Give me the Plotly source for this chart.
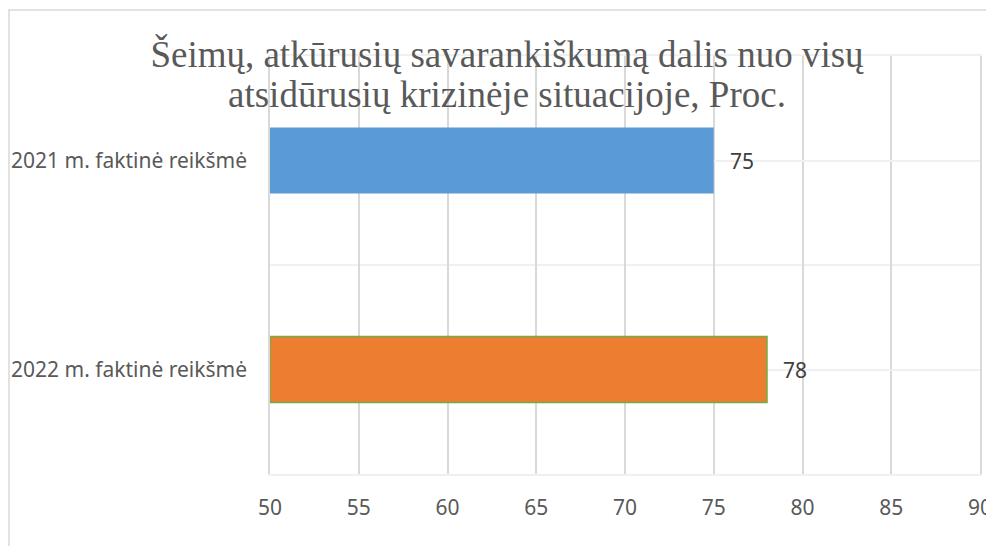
import plotly.graph_objects as go

categories = ["2021 m. faktinė reikšmė", "2022 m. faktinė reikšmė"]
values = [75, 78]
bar_colors = ["#5B9BD5", "#ED7D31"]
bar_line_colors = ["#5B9BD5", "#70AD47"]
bar_line_widths = [0, 1.5]
x_ticks = [50, 55, 60, 65, 70, 75, 80, 85, 90]
title_line1 = "Šeimų, atkūrusių savarankiškumą dalis nuo visų"
title_line2 = "atsidūrusių krizinėje situacijoje, Proc."

positions = list(range(len(categories)))
axis_min = x_ticks[0]

# the page body adds an 8px offset, so the figure is 8px smaller than the window
W, H = 986, 538
ml, mr, mt, mb = 262, 14, 48, 72
pw, ph = W - ml - mr, H - mt - mb

title_font = dict(family="Liberation Serif, Times New Roman, serif", size=37, color="#595959")
label_font = dict(family="Noto Sans, sans-serif", size=21, color="#595959")

fig = go.Figure()
fig.add_trace(go.Bar(
    x=[v - axis_min for v in values],
    y=positions,
    base=axis_min,
    orientation="h",
    width=0.315,
    marker=dict(color=bar_colors, line=dict(color=bar_line_colors, width=bar_line_widths)),
    showlegend=False,
    hoverinfo="none",
))

for p, v in zip(positions, values):
    fig.add_annotation(
        x=v, y=p, text=str(v), showarrow=False, xanchor="left", yanchor="middle",
        xshift=14, font=dict(family="Noto Sans, sans-serif", size=21, color="#404040"),
    )

# second title line
fig.add_annotation(
    xref="paper", yref="paper", x=(499 - ml) / pw, y=1 - (86 - mt) / ph,
    xanchor="center", yanchor="middle", showarrow=False,
    text=title_line2, font=title_font,
)

# outer chart border
fig.add_shape(
    type="rect", xref="paper", yref="paper",
    x0=-(ml - 1) / pw, x1=1 + (mr + 20) / pw,
    y0=-(mb + 20) / ph, y1=1 + (mt - 2) / ph,
    line=dict(color="#D9D9D9", width=1.5), layer="below",
)

fig.update_layout(
    width=W, height=H,
    margin=dict(l=ml, r=mr, t=mt, b=mb, autoexpand=False),
    paper_bgcolor="white", plot_bgcolor="white",
    title=dict(
        text=title_line1, x=499 / W, xanchor="center", xref="container",
        y=1 - 46 / H, yanchor="middle", yref="container",
        font=title_font, automargin=False,
    ),
    xaxis=dict(
        range=[x_ticks[0], x_ticks[-1]], tickvals=x_ticks, ticktext=[str(t) for t in x_ticks],
        showgrid=True, gridcolor="#D9D9D9", gridwidth=1.5, zeroline=False,
        showline=True, mirror=True, linecolor="#F0F0F0", linewidth=1.5,
        ticks="", ticklabelstandoff=14, automargin=False,
        tickfont=label_font,
    ),
    yaxis=dict(
        range=[len(categories) - 0.5, -0.5], tickvals=positions, ticktext=categories,
        showgrid=True, gridcolor="#F0F0F0", gridwidth=1.5, zeroline=False,
        showline=True, mirror=True, linecolor="#D9D9D9", linewidth=1.5,
        ticks="", ticklabelstandoff=17, automargin=False,
        minor=dict(tick0=0.5, dtick=1, showgrid=True, gridcolor="#F0F0F0", gridwidth=1.5),
        tickfont=label_font,
    ),
)

fig.write_html("out.html")
